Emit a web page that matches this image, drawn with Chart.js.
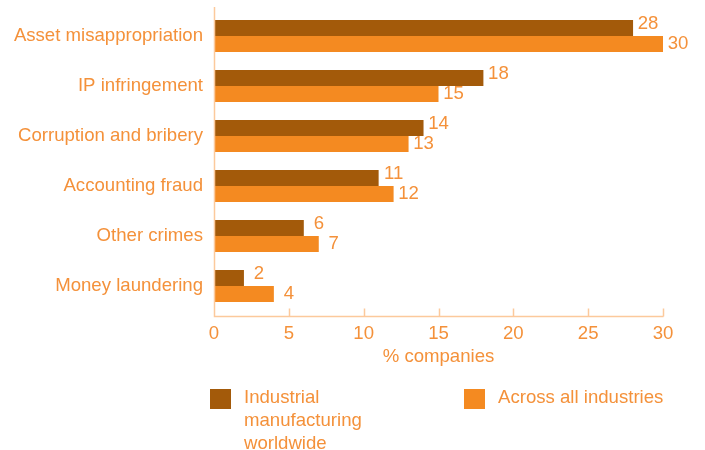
<!DOCTYPE html>
<html>
<head>
<meta charset="utf-8">
<title>Fraud types reported</title>
<script src="https://cdn.jsdelivr.net/npm/chart.js@4/dist/chart.umd.min.js"></script>
<style>
  html, body { margin: 0; padding: 0; background: #ffffff; }
  #wrap { width: 705px; height: 450px; }
</style>
</head>
<body>
<div id="wrap"><canvas id="chart" width="705" height="450"></canvas></div>
<script>
// Economic crime types, % of companies reporting them
const categories = [
  'Asset misappropriation',
  'IP infringement',
  'Corruption and bribery',
  'Accounting fraud',
  'Other crimes',
  'Money laundering'
];
const industrialManufacturing = [28, 18, 14, 11, 6, 2];
const allIndustries = [30, 15, 13, 12, 7, 4];
const seriesNames = ['Industrial manufacturing worldwide', 'Across all industries'];
const xTicks = [0, 5, 10, 15, 20, 25, 30];
const axisTitle = '% companies';

const DARK = '#a35a0a';
const ORANGE = '#f48a21';
const TEXT = '#f4913a';
const AXIS = '#fcc99c';
const FONT = '"Liberation Sans", Arial, Helvetica, sans-serif';
const SIZE = 18.6;

// Axis lines and inward tick marks, drawn a few pixels outside the bar bands
const axisLines = {
  id: 'axisLines',
  afterDraw(chart) {
    const { ctx, chartArea, scales } = chart;
    const x0 = Math.round(scales.x.getPixelForValue(0)) + 0.5;
    const x1 = Math.round(scales.x.getPixelForValue(30)) + 0.5;
    const yb = Math.round(chartArea.bottom + 5) + 0.5;
    ctx.save();
    ctx.strokeStyle = AXIS;
    ctx.lineWidth = 1.5;
    ctx.beginPath();
    ctx.moveTo(x0, chartArea.top - 4);
    ctx.lineTo(x0, yb);
    ctx.lineTo(x1, yb);
    xTicks.forEach(v => {
      const px = Math.round(scales.x.getPixelForValue(v)) + 0.5;
      ctx.moveTo(px, yb);
      ctx.lineTo(px, yb - 8);
    });
    ctx.stroke();
    ctx.restore();
  }
};

// Value labels to the right of each bar
const valueLabels = {
  id: 'valueLabels',
  afterDatasetsDraw(chart) {
    const { ctx } = chart;
    ctx.save();
    ctx.font = SIZE + 'px ' + FONT;
    ctx.fillStyle = TEXT;
    ctx.textAlign = 'center';
    ctx.textBaseline = 'middle';
    chart.data.datasets.forEach((ds, di) => {
      const meta = chart.getDatasetMeta(di);
      meta.data.forEach((bar, i) => {
        const lift = di === 0 ? -4 : 0;
        ctx.fillText(String(ds.data[i]), bar.x + 15, bar.y + lift);
      });
    });
    ctx.restore();
  }
};

// Legend under the axis, with wrapped series names
const wrappedLegend = {
  id: 'wrappedLegend',
  afterDraw(chart) {
    const { ctx, chartArea } = chart;
    const maxWidth = 175;
    const lineHeight = 23;
    const top = 389;
    const starts = [chartArea.left - 4, chartArea.left + 250];
    ctx.save();
    ctx.font = SIZE + 'px ' + FONT;
    ctx.textBaseline = 'alphabetic';
    ctx.textAlign = 'left';
    chart.data.datasets.forEach((ds, di) => {
      const sx = starts[di];
      ctx.fillStyle = ds.backgroundColor;
      ctx.fillRect(sx, top, 21, 20);
      const words = ds.label.split(' ');
      const lines = [];
      let cur = '';
      words.forEach(w => {
        const test = cur ? cur + ' ' + w : w;
        if (cur && ctx.measureText(test).width > maxWidth) {
          lines.push(cur);
          cur = w;
        } else {
          cur = test;
        }
      });
      if (cur) lines.push(cur);
      ctx.fillStyle = TEXT;
      lines.forEach((ln, li) => {
        ctx.fillText(ln, sx + 34, top + 14 + li * lineHeight);
      });
    });
    ctx.restore();
  }
};

new Chart(document.getElementById('chart'), {
  type: 'bar',
  data: {
    labels: categories,
    datasets: [
      {
        label: seriesNames[0],
        data: industrialManufacturing,
        backgroundColor: DARK,
        borderWidth: 0,
        barPercentage: 1,
        categoryPercentage: 0.64
      },
      {
        label: seriesNames[1],
        data: allIndustries,
        backgroundColor: ORANGE,
        borderWidth: 0,
        barPercentage: 1,
        categoryPercentage: 0.64
      }
    ]
  },
  options: {
    indexAxis: 'y',
    responsive: false,
    animation: false,
    devicePixelRatio: 1,
    layout: { padding: { left: 0, right: 42, top: 11, bottom: 82 } },
    scales: {
      x: {
        min: 0,
        max: 30,
        afterBuildTicks(scale) {
          scale.ticks = xTicks.map(v => ({ value: v }));
        },
        afterFit(scale) {
          scale.height = 57;
          scale.paddingLeft = 0;
          scale.paddingRight = 0;
        },
        grid: { display: false, drawTicks: false },
        border: { display: false },
        ticks: {
          color: TEXT,
          font: { family: FONT, size: SIZE },
          padding: 12,
          maxRotation: 0
        },
        title: {
          display: true,
          text: axisTitle,
          color: TEXT,
          font: { family: FONT, size: SIZE },
          padding: 0
        }
      },
      y: {
        afterFit(scale) {
          scale.width = 214;
          scale.paddingTop = 0;
          scale.paddingBottom = 0;
        },
        grid: { display: false, drawTicks: false },
        border: { display: false },
        ticks: {
          color: TEXT,
          font: { family: FONT, size: SIZE },
          padding: 11
        }
      }
    },
    plugins: {
      legend: { display: false },
      tooltip: { enabled: false }
    }
  },
  plugins: [axisLines, valueLabels, wrappedLegend]
});
</script>
</body>
</html>
